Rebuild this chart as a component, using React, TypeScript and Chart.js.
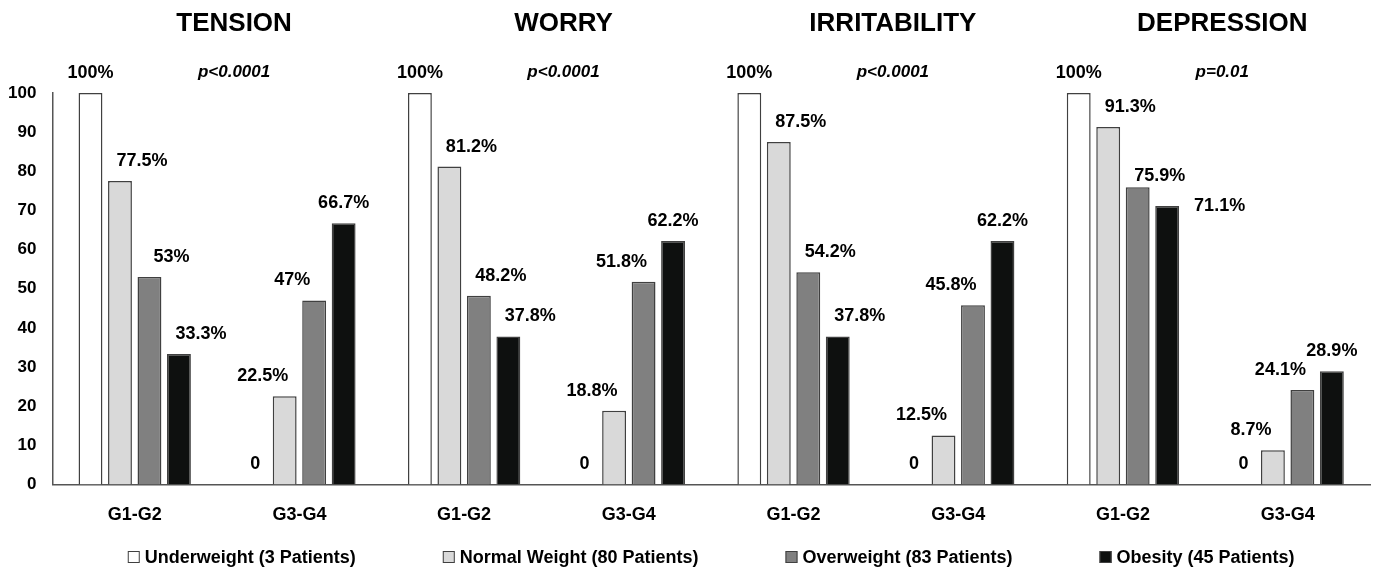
import React, { useEffect, useRef } from 'react';
import { Chart, registerables } from 'chart.js';

Chart.register(...registerables);

// ---- data ----
const panelTitles = ['TENSION', 'WORRY', 'IRRITABILITY', 'DEPRESSION'];
const pValues = ['p<0.0001', 'p<0.0001', 'p<0.0001', 'p=0.01'];
const categories = ['G1-G2', 'G3-G4', 'G1-G2', 'G3-G4', 'G1-G2', 'G3-G4', 'G1-G2', 'G3-G4'];
const underweight = [100, 0, 100, 0, 100, 0, 100, 0];
const normalWeight = [77.5, 22.5, 81.2, 18.8, 87.5, 12.5, 91.3, 8.7];
const overweight = [53, 47, 48.2, 51.8, 54.2, 45.8, 75.9, 24.1];
const obesity = [33.3, 66.7, 37.8, 62.2, 37.8, 62.2, 71.1, 28.9];
const seriesNames = [
  'Underweight (3 Patients)',
  'Normal Weight (80 Patients)',
  'Overweight (83 Patients)',
  'Obesity (45 Patients)',
];
const yMin = 0;
const yMax = 100;
const yStep = 10;

// ---- styles ----
const FONT = "'Liberation Sans', Arial, Helvetica, sans-serif";
const fills = ['#ffffff', '#d9d9d9', '#808080', '#0e100f'];
const edge = '#404040';

const annotationsPlugin = {
  id: 'annotations',
  afterDatasetsDraw(chart: any) {
    const ctx = chart.ctx;
    const xs = chart.scales.x;
    ctx.save();
    ctx.fillStyle = '#000';
    ctx.textBaseline = 'middle';
    // bar value labels
    ctx.font = `bold 18px ${FONT}`;
    chart.data.datasets.forEach((ds: any, di: number) => {
      const meta = chart.getDatasetMeta(di);
      meta.data.forEach((bar: any, ci: number) => {
        const v = ds.data[ci];
        const text = v === 0 ? '0' : `${v}%`;
        const prev = di > 0 ? chart.data.datasets[di - 1].data[ci] : null;
        ctx.textAlign = 'center';
        if (ci % 2 === 0 && di === 3 && prev !== null && prev - v < 10) {
          // crowded: put the label beside the bar
          ctx.textAlign = 'left';
          ctx.fillText(text, bar.x + bar.width / 2 + 15, bar.y);
          return;
        }
        let dx = 0;
        let dy = 20;
        if (ci % 2 === 0) {
          dx = di === 0 ? 0 : 22;
          if (di === 2 && prev !== null && prev - v < 20) dy = 11;
        } else {
          dx = di === 1 || di === 2 ? -22 : 0;
        }
        ctx.fillText(text, bar.x + dx, bar.y - dy);
      });
    });
    // panel titles and p-values
    ctx.textAlign = 'center';
    panelTitles.forEach((t, i) => {
      const cx = (xs.getPixelForValue(2 * i) + xs.getPixelForValue(2 * i + 1)) / 2 + 17;
      ctx.font = `bold 26px ${FONT}`;
      ctx.fillText(t, cx, 16);
      ctx.font = `italic bold 17px ${FONT}`;
      ctx.fillText(pValues[i], cx, 64);
    });
    ctx.restore();
  },
  afterDraw(chart: any) {
    const ctx = chart.ctx;
    const area = chart.chartArea;
    ctx.save();
    ctx.font = `bold 18px ${FONT}`;
    const box = 12;
    const boxGap = 5;
    const itemGap = 87;
    const widths = seriesNames.map((n) => box + boxGap + ctx.measureText(n).width);
    const total = widths.reduce((a, b) => a + b, 0) + itemGap * (seriesNames.length - 1);
    let x = (area.left + area.right) / 2 - total / 2;
    const y = 549;
    ctx.textBaseline = 'middle';
    ctx.textAlign = 'left';
    seriesNames.forEach((n, i) => {
      ctx.fillStyle = fills[i];
      ctx.fillRect(x, y - box / 2, box, box);
      ctx.strokeStyle = edge;
      ctx.lineWidth = 1;
      ctx.strokeRect(x + 0.5, y - box / 2 + 0.5, box - 1, box - 1);
      ctx.fillStyle = '#000';
      ctx.fillText(n, x + box + boxGap, y + 1);
      x += widths[i] + itemGap;
    });
    ctx.restore();
  },
};

export default function App() {
  const ref = useRef<HTMLCanvasElement | null>(null);

  useEffect(() => {
    if (!ref.current) return;
    const seriesValues = [underweight, normalWeight, overweight, obesity];
    const chart = new Chart(ref.current, {
      type: 'bar',
      data: {
        labels: categories,
        datasets: seriesValues.map((vals, i) => ({
          label: seriesNames[i],
          data: vals,
          backgroundColor: fills[i],
          borderColor: edge,
          borderWidth: 1.5,
          categoryPercentage: 0.716,
          barPercentage: 0.81,
        })),
      },
      options: {
        animation: false,
        responsive: true,
        maintainAspectRatio: false,
        layout: { padding: { top: 85, right: 6, bottom: 27, left: -16 } },
        plugins: {
          legend: { display: false },
          tooltip: { enabled: false },
          title: { display: false },
        },
        scales: {
          x: {
            grid: { display: false, drawTicks: false },
            border: { display: true, color: '#555', width: 1.5 },
            ticks: {
              color: '#000',
              padding: 20,
              font: { family: FONT, size: 18, weight: 'bold' },
            },
          },
          y: {
            min: yMin,
            max: yMax,
            grid: { display: false, drawTicks: false },
            border: { display: true, color: '#555', width: 1.5 },
            ticks: {
              stepSize: yStep,
              color: '#000',
              padding: 16,
              font: { family: FONT, size: 17, weight: 'bold' },
            },
          },
        },
      },
      plugins: [annotationsPlugin],
    });
    return () => chart.destroy();
  }, []);

  return (
    <div style={{ position: 'relative', width: 1368, height: 565 }}>
      <canvas ref={ref} />
    </div>
  );
}
